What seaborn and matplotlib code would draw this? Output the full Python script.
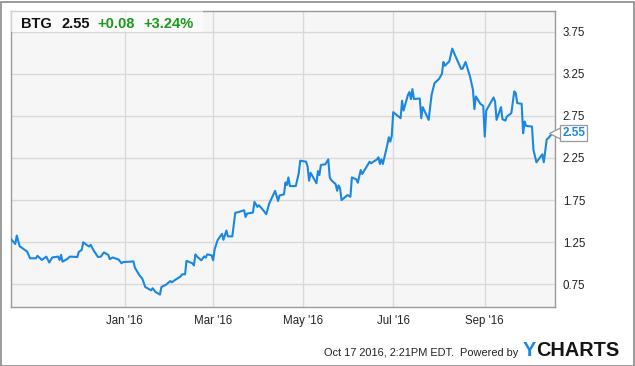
import matplotlib
matplotlib.use("Agg")
import matplotlib.pyplot as plt
import matplotlib.dates as mdates
from matplotlib.patches import Rectangle
import seaborn as sns
import pandas as pd

# ---------------- data ----------------
dates = [
    "2015-10-16","2015-10-19","2015-10-20","2015-10-22","2015-10-23","2015-10-27","2015-10-29","2015-11-02","2015-11-03","2015-11-06",
    "2015-11-09","2015-11-11","2015-11-13","2015-11-17","2015-11-18","2015-11-19","2015-11-20","2015-11-23","2015-11-25","2015-11-30",
    "2015-12-01","2015-12-03","2015-12-04","2015-12-07","2015-12-08","2015-12-09","2015-12-11","2015-12-14","2015-12-16","2015-12-18",
    "2015-12-21","2015-12-22","2015-12-24","2015-12-28","2015-12-30","2015-12-31","2016-01-05","2016-01-07","2016-01-08","2016-01-11",
    "2016-01-13","2016-01-15","2016-01-19","2016-01-20","2016-01-22","2016-01-25","2016-01-26","2016-01-29","2016-02-01","2016-02-02",
    "2016-02-04","2016-02-08","2016-02-09","2016-02-11","2016-02-12","2016-02-16","2016-02-17","2016-02-18","2016-02-19","2016-02-22",
    "2016-02-24","2016-02-25","2016-02-26","2016-02-29","2016-03-01","2016-03-02","2016-03-04","2016-03-07","2016-03-08","2016-03-10",
    "2016-03-11","2016-03-14","2016-03-16","2016-03-18","2016-03-22","2016-03-23","2016-03-24","2016-03-28","2016-03-29","2016-03-31",
    "2016-04-01","2016-04-04","2016-04-06","2016-04-08","2016-04-12","2016-04-14","2016-04-15","2016-04-18","2016-04-19","2016-04-20",
    "2016-04-21","2016-04-22","2016-04-26","2016-04-28","2016-04-29","2016-05-03","2016-05-04","2016-05-05","2016-05-06","2016-05-10",
    "2016-05-11","2016-05-12","2016-05-13","2016-05-16","2016-05-18","2016-05-19","2016-05-20","2016-05-23","2016-05-24","2016-05-25",
    "2016-05-26","2016-05-27","2016-05-31","2016-06-02","2016-06-03","2016-06-06","2016-06-07","2016-06-09","2016-06-10","2016-06-13",
    "2016-06-15","2016-06-16","2016-06-20","2016-06-21","2016-06-22","2016-06-23","2016-06-24","2016-06-27","2016-06-28","2016-06-29",
    "2016-06-30","2016-07-01","2016-07-06","2016-07-07","2016-07-08","2016-07-11","2016-07-12","2016-07-13","2016-07-14","2016-07-15",
    "2016-07-19","2016-07-20","2016-07-21","2016-07-25","2016-07-27","2016-07-29","2016-08-01","2016-08-03","2016-08-04","2016-08-05",
    "2016-08-08","2016-08-10","2016-08-12","2016-08-16","2016-08-17","2016-08-19","2016-08-22","2016-08-24","2016-08-25","2016-08-26",
    "2016-08-29","2016-08-31","2016-09-01","2016-09-02","2016-09-07","2016-09-08","2016-09-09","2016-09-12","2016-09-13","2016-09-15",
    "2016-09-16","2016-09-19","2016-09-21","2016-09-22","2016-09-23","2016-09-26","2016-09-27","2016-09-28","2016-09-29","2016-10-03",
    "2016-10-04","2016-10-06","2016-10-10","2016-10-11","2016-10-13","2016-10-14","2016-10-17",
]
prices = [
    1.29, 1.23, 1.33, 1.20, 1.19, 1.14, 1.06, 1.06, 1.09, 1.04,
    1.08, 1.01, 1.07, 1.08, 1.04, 1.10, 1.02, 1.05, 1.08, 1.075,
    1.135, 1.16, 1.25, 1.21, 1.20, 1.22, 1.155, 1.075, 1.08, 1.13,
    1.10, 1.05, 1.07, 1.045, 1.00, 1.015, 1.02, 1.024, 0.95, 0.86,
    0.82, 0.72, 0.68, 0.705, 0.66, 0.63, 0.72, 0.745, 0.79, 0.775,
    0.80, 0.845, 0.87, 0.87, 1.03, 1.00, 0.975, 1.105, 1.083, 1.036,
    1.083, 1.068, 1.107, 1.095, 1.036, 1.163, 1.274, 1.35, 1.28, 1.39,
    1.32, 1.32, 1.60, 1.607, 1.63, 1.55, 1.59, 1.603, 1.73, 1.67,
    1.69, 1.63, 1.583, 1.71, 1.86, 1.74, 1.806, 1.818, 1.96, 1.93,
    2.02, 1.917, 1.917, 2.068, 2.218, 2.206, 2.147, 1.98, 2.075, 1.95,
    2.095, 2.048, 2.167, 2.175, 2.234, 2.02, 1.988, 1.94, 1.861, 1.925,
    1.889, 1.75, 1.81, 1.79, 2.02, 1.996, 1.956, 2.107, 2.06, 2.147,
    2.206, 2.187, 2.234, 2.258, 2.179, 2.234, 2.179, 2.405, 2.496, 2.444,
    2.512, 2.794, 2.722, 2.929, 2.813, 3.0, 3.032, 2.949, 3.067, 2.949,
    2.956, 2.722, 2.853, 2.702, 3.0, 3.139, 3.187, 3.25, 3.389, 3.345,
    3.397, 3.548, 3.464, 3.306, 3.31, 3.389, 3.218, 3.06, 2.83, 2.98,
    2.893, 2.869, 2.504, 2.813, 2.968, 2.92, 2.702, 2.853, 2.71, 2.694,
    2.742, 2.782, 3.04, 3.02, 2.901, 2.893, 2.544, 2.683, 2.631, 2.623,
    2.345, 2.199, 2.294, 2.199, 2.472, 2.484, 2.55,
]
ticker = "BTG"
last_price = "2.55"
change_abs = "+0.08"
change_pct = "+3.24%"
y_ticks = [0.75, 1.25, 1.75, 2.25, 2.75, 3.25, 3.75]
x_ticks = ["2016-01-01", "2016-03-01", "2016-05-01", "2016-07-01", "2016-09-01"]
footer = "Oct 17 2016, 2:21PM EDT.  Powered by"

# ---------------- style ----------------
sns.set_style("whitegrid", {
    "axes.facecolor": "#f6f6f6",
    "grid.color": "#d9d9d9",
    "axes.edgecolor": "#9a9a9a",
})
plt.rcParams["font.family"] = ["Liberation Sans", "DejaVu Sans"]

W, H = 635, 366
fig = plt.figure(figsize=(W / 100, H / 100), dpi=100)
L, R, T, B = 10.5, 554.5, 10.5, 306.5
ax = fig.add_axes([L / W, 1 - B / H, (R - L) / W, (B - T) / H])

df = pd.DataFrame({"date": pd.to_datetime(dates), "price": prices})
line_color = "#1a87e3"
sns.lineplot(data=df, x="date", y="price", ax=ax, color=line_color,
             linewidth=1.5, zorder=3)

ax.set_xlim(pd.Timestamp("2015-10-15 18:00"), pd.Timestamp("2016-10-18 06:00"))
ax.set_ylim(0.488, 4.0)
ax.set_xlabel("")
ax.set_ylabel("")

ax.set_xticks(pd.to_datetime(x_ticks))
ax.xaxis.set_major_formatter(mdates.DateFormatter("%b '%y"))
ax.set_yticks(y_ticks)
ax.set_yticklabels([f"{v:.2f}" for v in y_ticks])
ax.yaxis.tick_right()
ax.tick_params(axis="both", length=0, labelsize=8.3, colors="#222222")
ax.tick_params(axis="y", pad=6)
ax.tick_params(axis="x", pad=6)
ax.grid(True, color="#d9d9d9", linewidth=1)
for s in ax.spines.values():
    s.set_visible(True)
    s.set_color("#9a9a9a")
    s.set_linewidth(1)

# last value label on right, with a small chevron pointer
ytr = ax.get_yaxis_transform()
ax.plot([1.0], [prices[-1]], marker="<", markersize=8, mfc="white",
        mec="#999999", mew=0.9, transform=ytr, clip_on=False, zorder=7)
ax.annotate(last_price, xy=(1.0, prices[-1]), xycoords=ytr,
            xytext=(5.5, 0), textcoords="offset points", ha="left", va="center",
            fontsize=8.5, fontweight="bold", color=line_color, zorder=8,
            bbox=dict(boxstyle="square,pad=0.18", fc="white", ec="#999999", lw=0.9))

# header box
def fx(px):
    return px / W

def fy(py):
    return 1 - py / H

fig.patches.append(Rectangle((fx(11), fy(32)), fx(192), 21.5 / H,
                             transform=fig.transFigure, facecolor="white",
                             alpha=0.55, edgecolor="none", zorder=5))
hdr = dict(fontsize=10.5, fontweight="bold", va="baseline", zorder=6)
fig.text(fx(21), fy(28), ticker, color="#111111", **hdr)
fig.text(fx(61), fy(28), last_price, color="#111111", **hdr)
fig.text(fx(97), fy(28), change_abs, color="#1a9a1a", **hdr)
fig.text(fx(143), fy(28), change_pct, color="#1a9a1a", **hdr)

# footer
fig.text(fx(518), fy(355.5), footer, ha="right", va="baseline",
         fontsize=7.9, color="#222222")
fig.text(fx(523), fy(356.5), "Y", ha="left", va="baseline",
         fontsize=14.3, fontweight="bold", color="#1a87e3")
fig.text(fx(536), fy(356.5), "CHARTS", ha="left", va="baseline",
         fontsize=14.3, fontweight="bold", color="#151515")

# outer frame
fig.patches.append(Rectangle((0.5 / W, 0.5 / H), (W - 2) / W, (H - 2) / H,
                             transform=fig.transFigure, fill=False,
                             edgecolor="#8a8a8a", linewidth=1.2))

fig.savefig("out.png", dpi=100)
